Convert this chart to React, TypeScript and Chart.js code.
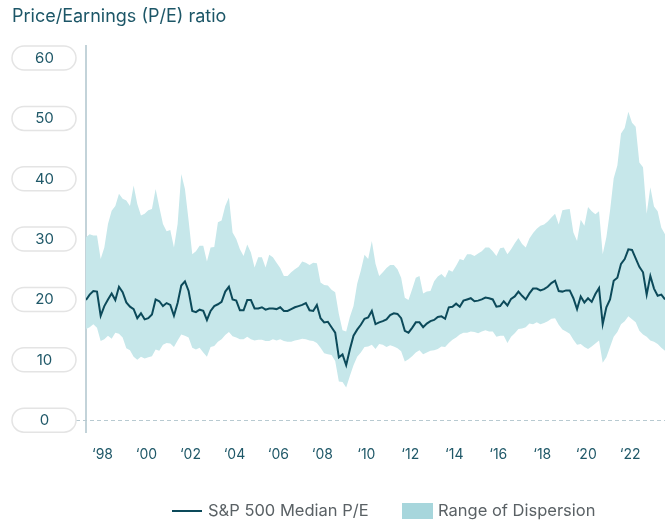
import React, { useEffect, useRef } from 'react';
import { Chart, registerables } from 'chart.js';

Chart.register(...registerables);

const TITLE = 'Price/Earnings (P/E) ratio';
const MEDIAN_LABEL = 'S&P 500 Median P/E';
const RANGE_LABEL = 'Range of Dispersion';

// bi-monthly observation dates
const DATES = [
  '1997-04', '1997-06', '1997-08', '1997-10', '1997-12',
  '1998-02', '1998-04', '1998-06', '1998-08', '1998-10', '1998-12',
  '1999-02', '1999-04', '1999-06', '1999-08', '1999-10', '1999-12',
  '2000-02', '2000-04', '2000-06', '2000-08', '2000-10', '2000-12',
  '2001-02', '2001-04', '2001-06', '2001-08', '2001-10', '2001-12',
  '2002-02', '2002-04', '2002-06', '2002-08', '2002-10', '2002-12',
  '2003-02', '2003-04', '2003-06', '2003-08', '2003-10', '2003-12',
  '2004-02', '2004-04', '2004-06', '2004-08', '2004-10', '2004-12',
  '2005-02', '2005-04', '2005-06', '2005-08', '2005-10', '2005-12',
  '2006-02', '2006-04', '2006-06', '2006-08', '2006-10', '2006-12',
  '2007-02', '2007-04', '2007-06', '2007-08', '2007-10', '2007-12',
  '2008-02', '2008-04', '2008-06', '2008-08', '2008-10', '2008-12',
  '2009-02', '2009-04', '2009-06', '2009-08', '2009-10', '2009-12',
  '2010-02', '2010-04', '2010-06', '2010-08', '2010-10', '2010-12',
  '2011-02', '2011-04', '2011-06', '2011-08', '2011-10', '2011-12',
  '2012-02', '2012-04', '2012-06', '2012-08', '2012-10', '2012-12',
  '2013-02', '2013-04', '2013-06', '2013-08', '2013-10', '2013-12',
  '2014-02', '2014-04', '2014-06', '2014-08', '2014-10', '2014-12',
  '2015-02', '2015-04', '2015-06', '2015-08', '2015-10', '2015-12',
  '2016-02', '2016-04', '2016-06', '2016-08', '2016-10', '2016-12',
  '2017-02', '2017-04', '2017-06', '2017-08', '2017-10', '2017-12',
  '2018-02', '2018-04', '2018-06', '2018-08', '2018-10', '2018-12',
  '2019-02', '2019-04', '2019-06', '2019-08', '2019-10', '2019-12',
  '2020-02', '2020-04', '2020-06', '2020-08', '2020-10', '2020-12',
  '2021-02', '2021-04', '2021-06', '2021-08', '2021-10', '2021-12',
  '2022-02', '2022-04', '2022-06', '2022-08', '2022-10', '2022-12',
  '2023-02', '2023-04', '2023-06', '2023-08',
];

const MEDIAN = [
  19.9, 20.8, 21.4, 21.3, 17.3,
  18.9, 20.0, 21.0, 19.9, 22.1, 21.2,
  19.5, 18.8, 18.4, 16.9, 17.7, 16.7,
  16.9, 17.5, 20.0, 19.7, 18.9, 19.4,
  19.1, 17.3, 19.4, 22.3, 23.0, 21.4,
  18.1, 17.9, 18.3, 18.1, 16.6, 18.1,
  18.9, 19.2, 19.6, 21.3, 22.1, 20.0,
  19.8, 18.2, 18.2, 19.9, 19.9, 18.5,
  18.5, 18.7, 18.3, 18.5, 18.5, 18.4,
  18.7, 18.1, 18.1, 18.4, 18.7, 18.9,
  19.1, 19.4, 18.2, 18.1, 19.1, 16.9,
  16.2, 16.3, 15.4, 14.5, 10.4, 10.9,
  9.1, 11.7, 14.0, 15.0, 15.8, 16.8,
  17.0, 18.1, 15.9, 16.2, 16.4, 16.7,
  17.4, 17.7, 17.6, 16.9, 14.8, 14.5,
  15.3, 16.2, 16.2, 15.4, 16.0, 16.4,
  16.6, 17.1, 17.2, 16.8, 18.7, 18.8,
  19.3, 18.8, 19.8, 20.0, 20.2, 19.7,
  19.8, 20.0, 20.3, 20.2, 20.0, 18.8,
  18.9, 19.7, 19.0, 20.1, 20.5, 21.3,
  20.6, 20.0, 21.0, 21.8, 21.8, 21.5,
  21.7, 22.1, 22.7, 23.1, 21.4, 21.3,
  21.5, 21.5, 20.2, 18.4, 20.5, 19.5,
  20.2, 19.6, 20.9, 21.9, 15.9, 18.7,
  20.0, 23.1, 23.6, 25.9, 26.7, 28.3,
  28.2, 26.8, 25.4, 24.5, 20.8, 23.9,
  21.8, 20.6, 20.8, 20.0,
];

const UPPER = [
  30.3, 30.8, 30.6, 30.6, 26.7,
  28.6, 32.5, 34.7, 35.5, 37.5, 36.7,
  36.4, 35.5, 38.9, 35.8, 33.9, 34.2,
  34.8, 35.0, 38.3, 35.3, 32.5, 31.3,
  31.5, 28.6, 32.5, 40.8, 38.3, 33.1,
  27.5, 28.0, 28.9, 28.9, 26.3, 28.6,
  28.7, 32.8, 33.1, 35.5, 36.9, 31.1,
  30.0, 28.3, 27.2, 29.1, 27.8, 25.3,
  27.0, 27.0, 25.3, 27.4, 27.0, 26.1,
  25.2, 23.9, 23.9, 24.5, 25.0, 25.4,
  26.3, 26.1, 25.7, 26.1, 26.0, 22.8,
  22.4, 22.3, 21.6, 21.2, 17.6, 14.9,
  14.7, 17.1, 18.9, 22.6, 24.8, 27.4,
  26.7, 29.7, 25.9, 23.9, 24.5, 25.2,
  25.7, 25.7, 25.0, 23.6, 20.3, 19.9,
  21.7, 23.6, 23.9, 21.0, 21.3, 21.4,
  23.0, 23.8, 24.2, 23.6, 24.9, 24.6,
  25.6, 26.7, 26.5, 27.5, 27.5, 27.2,
  27.6, 28.0, 28.6, 28.6, 28.0, 27.2,
  28.5, 28.6, 27.5, 28.3, 29.3, 30.2,
  29.2, 28.6, 30.1, 31.0, 31.7, 32.2,
  32.4, 32.9, 33.6, 34.2, 32.4, 34.8,
  34.9, 35.0, 31.1, 29.7, 33.2, 32.2,
  35.3, 34.6, 34.1, 34.6, 27.5, 30.3,
  34.7, 40.1, 42.2, 47.5, 48.4, 51.1,
  49.3, 48.6, 42.7, 41.9, 34.2, 38.6,
  35.4, 34.6, 31.9, 30.8,
];

const LOWER = [
  15.1, 15.4, 15.9, 15.3, 13.1,
  13.4, 14.0, 13.5, 14.5, 14.3, 13.7,
  11.9, 11.6, 10.5, 10.0, 10.5, 10.2,
  10.4, 10.6, 11.7, 11.5, 12.5, 12.8,
  12.7, 12.1, 13.2, 14.2, 14.0, 13.7,
  12.0, 11.7, 12.0, 11.2, 10.5, 12.1,
  12.3, 13.0, 13.4, 14.1, 14.6, 13.9,
  13.7, 13.4, 13.4, 13.8, 13.4, 13.2,
  13.3, 13.3, 13.1, 13.1, 13.4, 13.2,
  13.4, 13.1, 13.0, 13.0, 13.2, 13.3,
  13.5, 13.4, 13.2, 13.1, 12.8, 12.0,
  11.1, 10.9, 10.8, 9.8, 6.4, 6.3,
  5.4, 7.3, 9.1, 10.5, 11.2, 12.1,
  12.2, 12.5, 11.8, 12.6, 12.5, 12.1,
  12.4, 12.2, 11.9, 11.4, 9.7, 10.1,
  10.6, 11.2, 11.6, 10.9, 11.2, 11.5,
  11.6, 11.8, 12.2, 12.1, 12.8, 13.3,
  13.7, 14.2, 14.5, 14.5, 14.7, 14.6,
  14.4, 14.7, 14.9, 14.7, 14.7, 13.8,
  14.0, 14.0, 12.8, 13.8, 14.4, 15.1,
  15.2, 15.4, 16.0, 15.9, 16.2, 15.9,
  16.1, 16.4, 16.8, 16.9, 15.8, 15.0,
  14.7, 14.3, 13.3, 12.5, 12.6, 12.1,
  11.8, 12.2, 12.7, 13.2, 9.5, 10.4,
  12.1, 13.8, 14.6, 15.9, 16.4, 17.2,
  16.7, 16.2, 14.8, 14.2, 13.8, 13.2,
  13.0, 12.6, 12.0, 11.5,
];

const Y_TICKS = [0, 10, 20, 30, 40, 50, 60];
const X_TICK_YEARS = [1998, 2000, 2002, 2004, 2006, 2008, 2010, 2012, 2014, 2016, 2018, 2020, 2022];

const FONT = 'Inter, "Noto Sans", sans-serif';
const MEDIAN_COLOR = '#0c4a5a';
const BAND_COLOR = '#c6e7ea';
const BAND_LEGEND_COLOR = '#a7d6dc';
const AXIS_TEXT = '#1f5868';

const toYear = (d: string) => {
  const [y, m] = d.split('-').map(Number);
  return y + (m - 1) / 12;
};

const decorPlugin = {
  id: 'decor',
  beforeDatasetsDraw(chart: any) {
    const ctx = chart.ctx;
    const ys = chart.scales.y;
    const y0 = Math.round(ys.getPixelForValue(0)) + 0.5;
    ctx.save();
    ctx.setLineDash([4, 3]);
    ctx.strokeStyle = '#b8cad1';
    ctx.lineWidth = 1;
    ctx.beginPath();
    ctx.moveTo(76, y0);
    ctx.lineTo(chart.chartArea.right, y0);
    ctx.stroke();
    ctx.restore();
  },
  afterDraw(chart: any) {
    const ctx = chart.ctx;
    const ys = chart.scales.y;
    ctx.save();
    // y tick pills
    ys.ticks.forEach((t: any) => {
      const y = ys.getPixelForValue(t.value);
      const x = 12, w = 64, h = 24, r = 12;
      ctx.beginPath();
      ctx.moveTo(x + r, y - h / 2);
      ctx.lineTo(x + w - r, y - h / 2);
      ctx.arc(x + w - r, y, r, -Math.PI / 2, Math.PI / 2);
      ctx.lineTo(x + r, y + h / 2);
      ctx.arc(x + r, y, r, Math.PI / 2, (3 * Math.PI) / 2);
      ctx.closePath();
      ctx.fillStyle = '#ffffff';
      ctx.fill();
      ctx.lineWidth = 1.5;
      ctx.strokeStyle = '#e4e4e4';
      ctx.stroke();
      ctx.fillStyle = AXIS_TEXT;
      ctx.font = `15px ${FONT}`;
      ctx.textAlign = 'center';
      ctx.textBaseline = 'middle';
      ctx.fillText(String(t.value), x + w / 2 + 0.5, y + 0.5);
    });
    // title
    ctx.fillStyle = '#1c5667';
    ctx.font = `18px ${FONT}`;
    ctx.textAlign = 'left';
    ctx.textBaseline = 'middle';
    ctx.fillText(TITLE, 12, 17);
    // legend
    const ly = 511;
    ctx.strokeStyle = MEDIAN_COLOR;
    ctx.lineWidth = 2;
    ctx.beginPath();
    ctx.moveTo(172, ly);
    ctx.lineTo(202, ly);
    ctx.stroke();
    ctx.fillStyle = '#5a6165';
    ctx.font = `16.5px ${FONT}`;
    ctx.fillText(chart.data.datasets[0].label, 208, ly);
    ctx.fillStyle = BAND_LEGEND_COLOR;
    ctx.fillRect(402, 503, 31, 16);
    ctx.fillStyle = '#5a6165';
    ctx.fillText(RANGE_LABEL, 438, ly);
    ctx.restore();
  },
};

export default function App() {
  const ref = useRef<HTMLCanvasElement | null>(null);

  useEffect(() => {
    document.body.style.margin = '0';
    const xs = DATES.map(toYear);
    const chart = new Chart(ref.current as HTMLCanvasElement, {
      type: 'line',
      data: {
        datasets: [
          {
            label: MEDIAN_LABEL,
            data: xs.map((x, i) => ({ x, y: MEDIAN[i] })),
            borderColor: MEDIAN_COLOR,
            borderWidth: 2,
            pointRadius: 0,
            tension: 0,
            fill: false,
          },
          {
            label: 'upper',
            data: xs.map((x, i) => ({ x, y: UPPER[i] })),
            borderWidth: 0,
            borderColor: 'rgba(0,0,0,0)',
            backgroundColor: BAND_COLOR,
            pointRadius: 0,
            tension: 0,
            fill: '+1',
          },
          {
            label: 'lower',
            data: xs.map((x, i) => ({ x, y: LOWER[i] })),
            borderWidth: 0,
            borderColor: 'rgba(0,0,0,0)',
            pointRadius: 0,
            tension: 0,
            fill: false,
          },
        ],
      },
      options: {
        responsive: false,
        animation: false,
        events: [],
        layout: { padding: { left: 86, right: 0, top: 46, bottom: 45 } },
        plugins: {
          legend: { display: false },
          tooltip: { enabled: false },
          title: { display: false },
        },
        scales: {
          x: {
            type: 'linear',
            min: xs[0],
            max: xs[xs.length - 1],
            afterBuildTicks: (scale: any) => {
              scale.ticks = X_TICK_YEARS.map((v) => ({ value: v }));
            },
            ticks: {
              autoSkip: false,
              maxRotation: 0,
              padding: 14,
              color: AXIS_TEXT,
              font: { family: FONT, size: 14 },
              callback: (v: any) => '\u2018' + String(v).slice(2),
            },
            grid: { display: false, drawTicks: false },
            border: { display: false },
          },
          y: {
            type: 'linear',
            min: -2,
            max: 62,
            afterBuildTicks: (scale: any) => {
              scale.ticks = Y_TICKS.map((v) => ({ value: v }));
            },
            ticks: { display: false },
            grid: { display: false, drawTicks: false },
            border: { display: true, color: '#c3d3d9', width: 2 },
          },
        },
      },
      plugins: [decorPlugin],
    });
    return () => chart.destroy();
  }, []);

  return (
    <div style={{ width: 665, height: 522 }}>
      <canvas ref={ref} width={665} height={522} />
    </div>
  );
}
